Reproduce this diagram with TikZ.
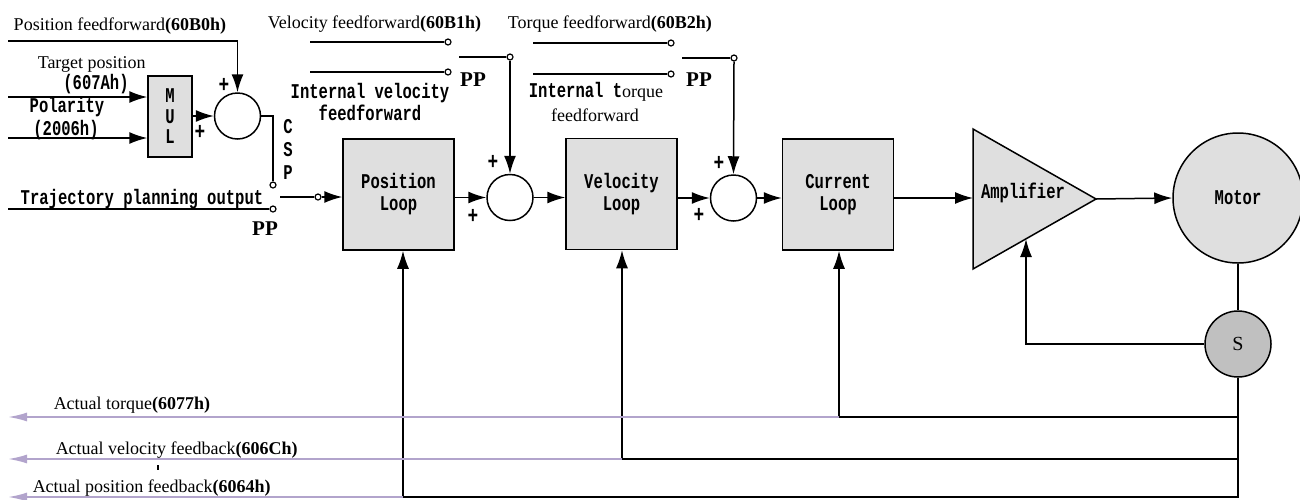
\documentclass[tikz,border=0pt]{standalone}
\usepackage{fontspec}
\setmainfont{Liberation Serif}
\newfontfamily\monob[FakeStretch=0.74]{Liberation Mono}
\usepackage{tikz}
\usetikzlibrary{arrows.meta,positioning,calc}
\usepackage{xcolor}
\definecolor{boxgray}{RGB}{223,223,223}
\definecolor{sgray}{RGB}{192,192,192}
\definecolor{fbpurple}{RGB}{178,164,204}
\newcommand\sersz{\fontsize{9}{10}\selectfont}
\newcommand\monsz{\monob\bfseries\fontsize{10.5}{11}\selectfont}

\begin{document}
\begin{tikzpicture}[x=0.5pt, y=-0.5pt, line width=0.75pt, >={Latex[length=9pt,width=6pt]},
  block/.style={draw, fill=boxgray, minimum width=55.5pt, minimum height=55.5pt, inner sep=0, font=\monsz, align=center},
  sumnode/.style={circle, draw, fill=white, minimum size=23pt, inner sep=0},
  contact/.style={circle, draw, fill=white, minimum size=3pt, inner sep=0, line width=0.6pt},
  txt/.style={inner sep=0, font=\sersz},
  mtxt/.style={inner sep=0, font=\monsz, align=center},
  plus/.style={inner sep=0, font=\monob\bfseries\fontsize{12}{12}\selectfont},
  pp/.style={inner sep=0, font=\bfseries\fontsize{10.5}{11}\selectfont},
  fbline/.style={draw=fbpurple, line width=0.9pt, -{Latex[length=9.5pt,width=4.5pt]}}]
  \useasboundingbox (0,0) rectangle (1300,499);

  % position input, csp branch
  \node[txt, anchor=base west] (pfftxt) at (13,30) {Position feedforward\textbf{(60B0h)}};
  \node[txt, anchor=base west] (tgttxt) at (37,68) {Target position};
  \node[mtxt] (tgthex) at (96,84) {(607Ah)};
  \node[mtxt] (poltxt) at (67,107) {Polarity};
  \node[mtxt] (polhex) at (66,130) {(2006h)};
  \node[draw, fill=boxgray, minimum width=22pt, minimum height=40.5pt, inner sep=0,
        font=\monob\bfseries\fontsize{10.5}{10.25}\selectfont, align=center] (mul) at (170,116.5) {M\\U\\L};
  \node[sumnode] (sum1) at (237.5,116) {};
  \coordinate (pffin) at (8,41);
  \coordinate (tgtin) at (8,97);
  \coordinate (polin) at (8,138);
  \draw[->] (pffin) -| (sum1.north);
  \draw[->] (tgtin) -- (mul.west |- tgtin);
  \draw[->] (polin) -- (mul.west |- polin);
  \draw[->] (mul.east |- sum1) -- (sum1.west);
  \node[plus] at (224,85) {+};
  \node[plus] at (200,132) {+};

  % mode switch
  \node[contact] (cspc) at (273,185) {};
  \node[contact] (ppc) at (273,209) {};
  \node[contact] (swp) at (318,197) {};
  \coordinate (arm1) at (280,197);
  \coordinate (trajin) at (8,209);
  \draw (sum1.east) -| (cspc.north);
  \draw (trajin) -- (ppc.west);
  \draw (arm1) -- (swp.west);
  \node[mtxt, font=\monob\bfseries\fontsize{10.5}{11.5}\selectfont] (csptxt) at (288,149) {C\\S\\P};
  \node[mtxt, anchor=base west] (trajtxt) at (20,204) {Trajectory planning output};
  \node[pp] at (265,229) {PP};

  % loops
  \node[block] (posloop) at (398.5,194.5) {Position\\Loop};
  \node[sumnode] (sum2) at (510,197.5) {};
  \node[block] (velloop) at (621.5,194) {Velocity\\Loop};
  \node[sumnode] (sum3) at (733.5,198) {};
  \node[block] (curloop) at (838,194.5) {Current\\Loop};
  \draw[->] (swp.east) -- (posloop.west |- swp);
  \draw[->] (posloop.east |- sum2) -- (sum2.west);
  \draw[->] (sum2.east) -- (velloop.west |- sum2);
  \draw[->] (velloop.east |- sum3) -- (sum3.west);
  \draw[->] (sum3.east) -- (curloop.west |- sum3);
  \node[plus] at (473,216) {+};
  \node[plus] at (493,162) {+};
  \node[plus] at (699,215) {+};
  \node[plus] at (719,163) {+};

  % velocity feedforward
  \node[txt, anchor=base west] (vfftxt) at (267,28) {Velocity feedforward\textbf{(60B1h)}};
  \node[contact] (vff) at (448,42) {};
  \node[contact] (vint) at (448,72) {};
  \node[contact] (vsw) at (510,57) {};
  \draw (310,42) -- (vff.west);
  \draw (310,72) -- (vint.west);
  \draw (459,57) -- (vsw.west);
  \draw[->] (vsw.south) -- (sum2.north);
  \node[pp] at (473,80) {PP};
  \node[mtxt] (vinttxt) at (370,102) {Internal velocity\\feedforward};

  % torque feedforward
  \node[txt, anchor=base west] (tfftxt) at (507,28) {Torque feedforward\textbf{(60B2h)}};
  \node[contact] (tff) at (671,43) {};
  \node[contact] (tint) at (671,74) {};
  \node[contact] (tsw) at (734,58) {};
  \draw (533,43) -- (tff.west);
  \draw (533,74) -- (tint.west);
  \draw (682,58) -- (tsw.west);
  \draw[->] (tsw.south) -- (sum3.north);
  \node[pp] at (699,80) {PP};
  \node[inner sep=0] (tinttxt) at (596,92) {{\monsz Internal t}{\sersz orque}};
  \node[txt] (tintff) at (595,115) {feedforward};

  % amplifier and motor
  \draw[fill=boxgray] (973,129) -- (1096,199) -- (973,269) -- cycle;
  \coordinate (ampin) at (973,198);
  \coordinate (ampout) at (1096,199);
  \coordinate (ampfb) at (1026,239);
  \node[mtxt] (amp) at (1023,193) {Amplifier};
  \node[circle, draw, fill=boxgray, minimum size=65pt, inner sep=0, font=\monsz] (motor) at (1238,198) {Motor};
  \node[circle, draw, fill=sgray, minimum size=33pt, inner sep=0, font=\fontsize{10}{12}\selectfont] (sens) at (1238,344) {S};
  \draw[->] (curloop.east |- ampin) -- (ampin);
  \draw[->] (ampout) -- (motor.west);
  \draw (motor.south) -- (sens.north);
  \draw[->] (sens.west) -| (ampfb);

  % feedback paths
  \coordinate (tqfb) at (839,417);
  \coordinate (vlfb) at (622,459);
  \coordinate (psfb) at (403,497);
  \draw (sens.south) -- (sens.south |- psfb) -- (psfb);
  \draw (sens.south |- tqfb) -- (tqfb);
  \draw (sens.south |- vlfb) -- (vlfb);
  \draw[->] (tqfb) -- (curloop.south -| tqfb);
  \draw[->] (vlfb) -- (velloop.south -| vlfb);
  \draw[->] (psfb) -- (posloop.south -| psfb);
  \draw[fbline] (tqfb) -- (8,417);
  \draw[fbline] (vlfb) -- (8,459);
  \draw[fbline] (psfb) -- (8,497);
  \node[txt, anchor=base west] (tqtxt) at (53,409) {Actual torque\textbf{(6077h)}};
  \node[txt, anchor=base west] (vltxt) at (55,454) {Actual velocity feedback\textbf{(606Ch)}};
  \node[txt, anchor=base west] (pstxt) at (32,492) {Actual position feedback\textbf{(6064h)}};
  \draw[line width=0.6pt] (158,465) -- (158,470);
\end{tikzpicture}
\end{document}
